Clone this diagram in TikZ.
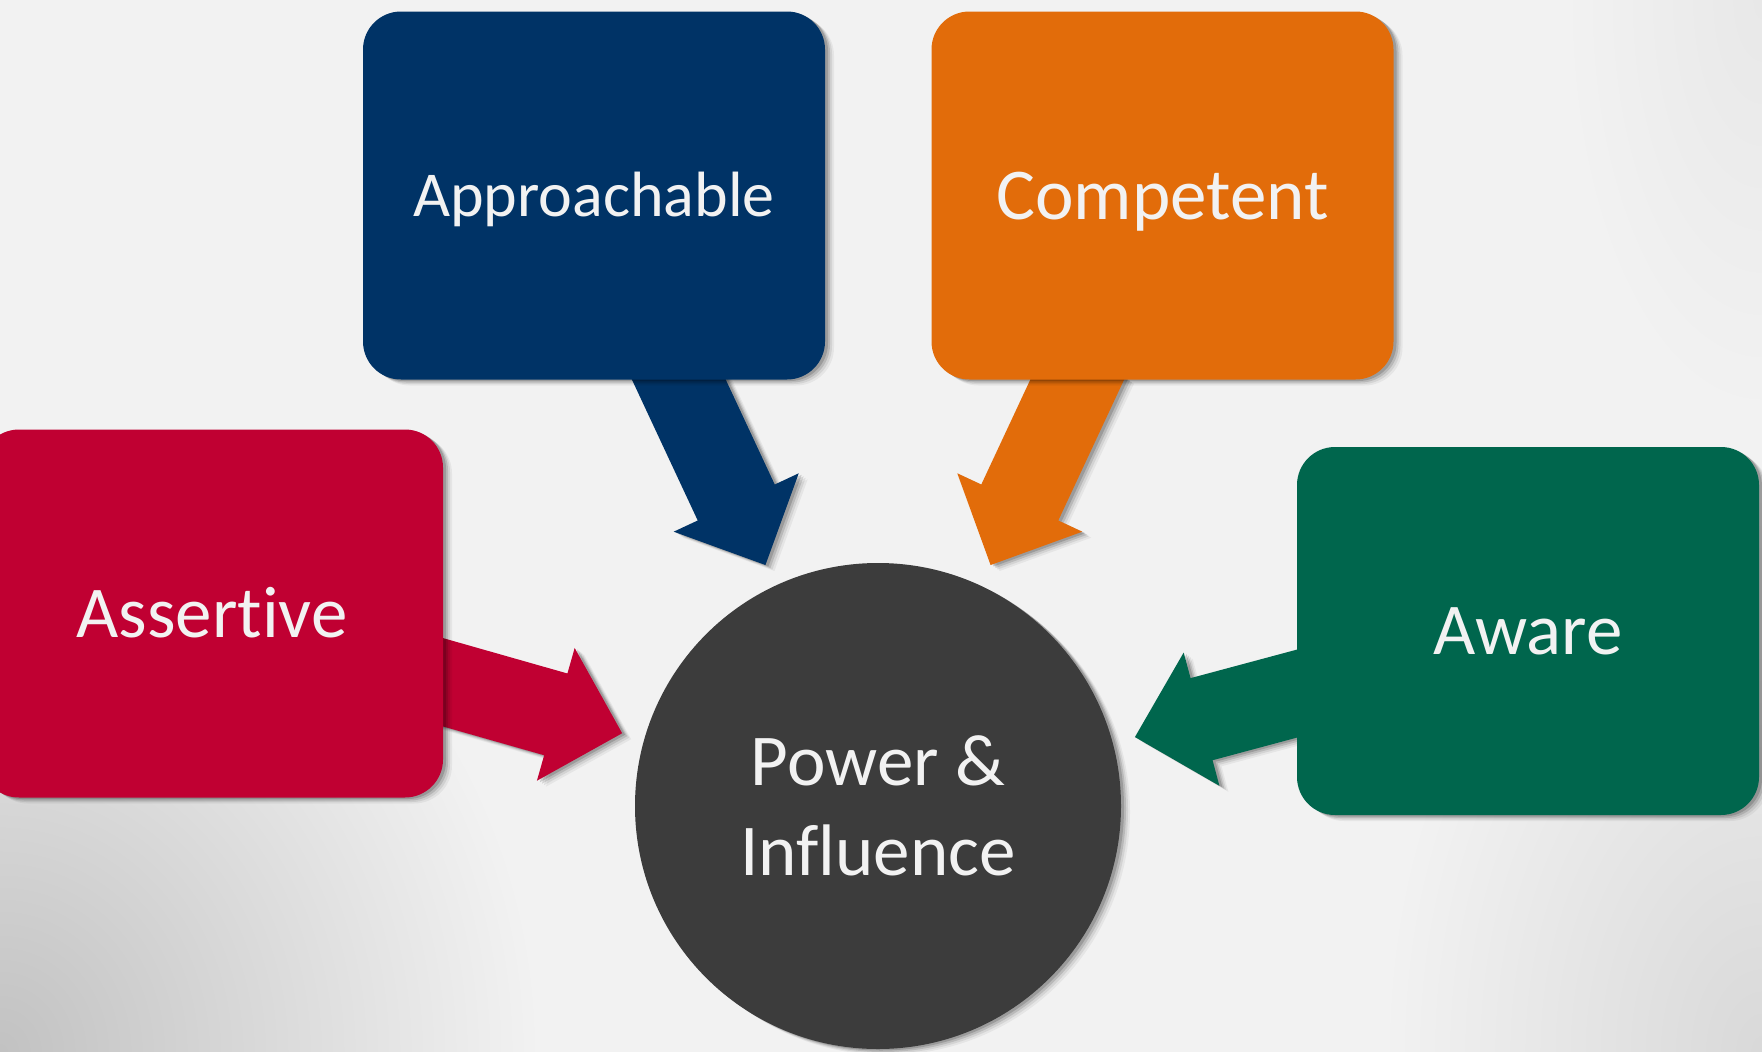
\documentclass[tikz,border=0pt]{standalone}
\usepackage{fontspec}
\setmainfont{Carlito}[Ligatures={NoCommon}]
\usetikzlibrary{calc,shadows}
\definecolor{bgc}{HTML}{F2F2F2}
\definecolor{cblue}{HTML}{003366}
\definecolor{corange}{HTML}{E26C0A}
\definecolor{cred}{HTML}{C00032}
\definecolor{cgreen}{HTML}{00664D}
\definecolor{cgray}{HTML}{3C3C3C}
\definecolor{ctext}{HTML}{F2F2F2}
\pgfdeclarelayer{backdrop}
\pgfdeclarelayer{arrowlayer}
\pgfsetlayers{backdrop,arrowlayer,main}
\tikzset{
  softshadow/.style={
    drop shadow={shadow xshift=9pt,shadow yshift=-6pt,opacity=.05,fill=black},
    drop shadow={shadow xshift=7pt,shadow yshift=-4.5pt,opacity=.08,fill=black},
    drop shadow={shadow xshift=5pt,shadow yshift=-3pt,opacity=.12,fill=black},
    drop shadow={shadow xshift=3pt,shadow yshift=-1.5pt,opacity=.16,fill=black}},
  card/.style={rectangle, rounded corners=38pt, minimum width=462pt, minimum height=368pt,
    inner sep=0pt, text=ctext, text height=47pt, text depth=0pt,
    font=\fontsize{73}{88}\selectfont, softshadow},
  hub/.style={circle, minimum size=486pt, inner sep=0pt, fill=cgray, text=ctext,
    align=center, font=\fontsize{73}{90}\selectfont, softshadow},
}
% #1 = start coordinate (inside a card), #2 = colour; the arrow points at the hub
\newcommand\blkarrow[2]{%
  \coordinate (#1-t) at ($(pi.center)!266pt!(#1)$);
  \coordinate (#1-h) at ($(#1-t)!69pt!(#1)$);
  \fill[#2, softshadow]
    ($(#1)!42.5pt!90:(#1-t)$) -- ($(#1-h)!42.5pt!90:(#1-t)$) --
    ($(#1-h)!69pt!90:(#1-t)$) -- (#1-t) --
    ($(#1-h)!69pt!-90:(#1-t)$) -- ($(#1-h)!42.5pt!-90:(#1-t)$) --
    ($(#1)!42.5pt!-90:(#1-t)$) -- cycle;
}
\begin{document}
\begin{tikzpicture}[x=1pt,y=-1pt]
\useasboundingbox (0,0) rectangle (1762,1052);
\begin{pgfonlayer}{backdrop}
  \fill[bgc] (0,0) rectangle (1762,1052);
  \begin{scope}
    \clip (0,0) rectangle (1762,1052);
    \shade[inner color=black!24, outer color=bgc] (0,1052) ellipse [x radius=540, y radius=580];
    \shade[inner color=black!15, outer color=bgc] (1762,1052) ellipse [x radius=380, y radius=560];
    \shade[inner color=black!9, outer color=bgc] (1762,0) ellipse [x radius=200, y radius=420];
  \end{scope}
\end{pgfonlayer}

\node[card, fill=cred] (ass) at (212,613.5) {Assertive};
\node[card, fill=cblue, font=\fontsize{64}{77}\selectfont, text height=41pt] (app) at (594,195.5) {Approachable};
\node[card, fill=corange] (comp) at (1162.5,195.5) {Competent};
\node[card, fill=cgreen] (aw) at (1528,631) {Aware};
\node[hub] (pi) at (878,806) {Power \&\\Influence};

\coordinate (sA) at ($(app.south)+(76,-19)$);
\coordinate (sC) at ($(comp.south)+(-76,-20)$);
\coordinate (sR) at ($(ass.east)+(-24,62)$);
\coordinate (sW) at ($(aw.west)+(21,57)$);

\begin{pgfonlayer}{arrowlayer}
  \blkarrow{sA}{cblue}
  \blkarrow{sC}{corange}
  \blkarrow{sR}{cred}
  \blkarrow{sW}{cgreen}
\end{pgfonlayer}
\end{tikzpicture}
\end{document}
